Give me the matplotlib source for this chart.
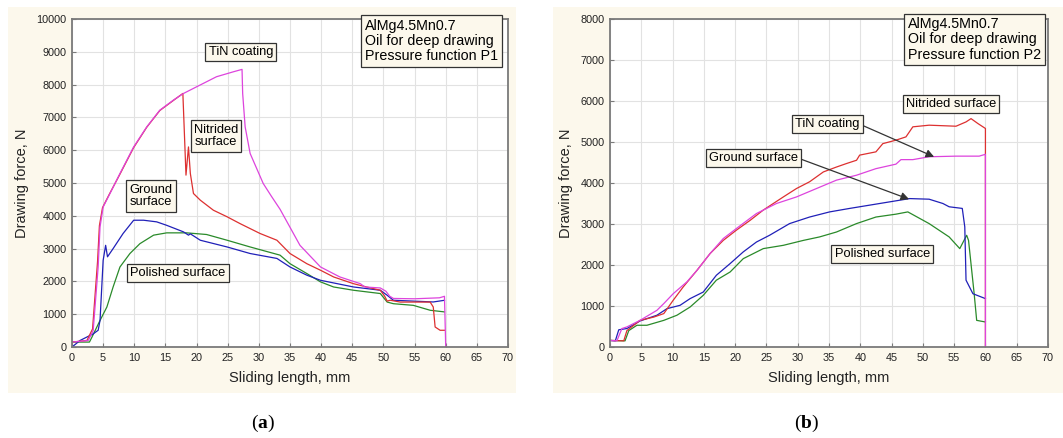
import matplotlib.pyplot as plt
from matplotlib.patches import Rectangle

plt.rcParams['font.family'] = ['Liberation Sans', 'DejaVu Sans']
plt.rcParams['mathtext.fontset'] = 'custom'
plt.rcParams['mathtext.rm'] = 'Liberation Serif'
plt.rcParams['mathtext.bf'] = 'Liberation Serif:bold'

# ---- panel (a): pressure function P1 ----
a_tin_x = [0, 2.6, 3.4, 4.2, 4.5, 5.0, 6.1, 7.7, 9.9, 12.0, 14.1, 16.3, 17.9, 20.6, 23.2, 25.9, 27.3,
           27.4, 27.8, 28.6, 30.7, 32.0, 33.4, 36.6, 39.9, 43.0, 46.3, 47.0, 49.5, 50.4, 51.0, 51.6, 55.0,
           59.0, 59.8, 60.0]
a_tin_y = [150, 200, 500, 2440, 3660, 4270, 4680, 5290, 6100, 6710, 7220, 7530, 7730, 7990, 8240, 8390, 8464,
           7730, 6710, 5900, 4985, 4600, 4200, 3100, 2440, 2136, 1930, 1830, 1800, 1700, 1550, 1480, 1470,
           1500, 1546, 0]

a_nit_x = [0, 2.4, 3.3, 4.1, 4.4, 4.9, 6.0, 7.7, 9.9, 12.0, 14.1, 16.3, 17.8, 18.3, 18.7, 19.0, 19.5,
           20.6, 22.7, 24.9, 27.0, 30.2, 32.9, 35.0, 37.7, 39.9, 42.0, 45.2, 47.3, 49.5, 50.2, 50.6,
           51.1, 52.7, 57.5, 58.0, 58.3, 59.1, 59.8]
a_nit_y = [150, 200, 550, 2600, 3700, 4250, 4660, 5270, 6080, 6700, 7210, 7520, 7730, 5240, 6100, 5290, 4680,
           4476, 4170, 3970, 3760, 3460, 3255, 2850, 2540, 2340, 2136, 1930, 1830, 1730, 1550, 1400,
           1425, 1370, 1370, 1220, 610, 510, 510]

a_gro_x = [0, 1.3, 3.4, 4.2, 4.5, 5.0, 5.4, 5.7, 6.6, 8.2, 9.9, 11.5, 13.6, 15.2, 17.9, 18.7, 19.0,
           20.6, 24.9, 28.6, 32.9, 35.0, 37.7, 39.9, 45.2, 49.5, 50.6, 51.6, 58.0, 59.8]
a_gro_y = [0, 200, 400, 510, 810, 2640, 3100, 2750, 3000, 3460, 3865, 3865, 3815, 3710, 3510, 3410, 3450,
           3255, 3050, 2850, 2700, 2440, 2190, 2034, 1830, 1730, 1577, 1425, 1373, 1424]

a_pol_x = [0, 2.8, 3.2, 4.5, 5.6, 6.6, 7.7, 9.3, 10.9, 13.1, 15.2, 18.4, 21.6, 24.9, 28.6, 33.4, 35.0,
           37.7, 39.9, 42.0, 45.2, 49.5, 50.6, 51.6, 54.8, 57.5, 59.8]
a_pol_y = [150, 150, 300, 810, 1220, 1830, 2440, 2850, 3150, 3410, 3480, 3480, 3430, 3255, 3050, 2800, 2540,
           2240, 1985, 1830, 1730, 1630, 1370, 1320, 1270, 1120, 1070]

# ---- panel (b): pressure function P2 ----
b_nit_x = [0, 2.2, 2.7, 3.8, 4.8, 7.0, 8.6, 10.1, 11.7, 13.9, 16.0, 18.1, 20.2, 22.4, 24.5, 27.7, 29.8,
           31.9, 34.1, 36.2, 37.8, 39.4, 39.9, 42.5, 43.6, 45.7, 47.3, 48.4, 51.0, 55.3, 56.9, 57.7,
           58.8, 60.0, 60.0]
b_nit_y = [160, 150, 400, 530, 650, 730, 815, 1140, 1465, 1870, 2280, 2600, 2850, 3090, 3340, 3660, 3865,
           4030, 4270, 4390, 4475, 4555, 4680, 4760, 4960, 5045, 5125, 5370, 5410, 5385, 5490, 5570,
           5450, 5330, 0]

b_tin_x = [0, 1.1, 1.9, 2.7, 4.8, 7.5, 8.6, 10.1, 12.3, 13.9, 16.0, 18.1, 20.2, 23.4, 26.6, 29.8, 33.0,
           36.2, 39.4, 42.5, 45.7, 46.5, 48.4, 51.0, 55.3, 59.0, 60.0, 60.0]
b_tin_y = [160, 150, 450, 490, 650, 895, 1060, 1300, 1590, 1870, 2280, 2645, 2890, 3255, 3500, 3660, 3865,
           4070, 4190, 4350, 4460, 4570, 4570, 4640, 4655, 4655, 4700, 0]

b_gro_x = [0, 0.85, 1.4, 2.7, 4.8, 7.5, 9.1, 11.2, 12.8, 14.9, 17.0, 19.2, 21.3, 23.4, 25.5, 28.7, 31.9,
           35.1, 38.3, 41.5, 44.7, 47.9, 51.0, 53.2, 54.2, 56.3, 56.7, 56.9, 58.0, 60.0]
b_gro_y = [160, 150, 420, 450, 635, 775, 935, 1017, 1180, 1340, 1750, 2035, 2320, 2560, 2725, 3010, 3170,
           3295, 3380, 3460, 3540, 3620, 3605, 3500, 3420, 3380, 2930, 1630, 1300, 1180]

b_pol_x = [0, 2.4, 3.0, 4.3, 5.9, 8.6, 10.7, 12.8, 14.9, 17.0, 19.2, 21.3, 24.5, 27.7, 30.9, 33.5, 36.2,
           39.4, 42.5, 45.7, 47.6, 51.0, 54.2, 55.9, 57.0, 57.3, 58.2, 58.6, 60.0]
b_pol_y = [160, 150, 400, 530, 530, 650, 775, 975, 1260, 1630, 1830, 2155, 2400, 2480, 2600, 2685, 2805,
           3010, 3170, 3240, 3295, 3010, 2685, 2400, 2725, 2600, 1300, 650, 610]

x_ticks = list(range(0, 71, 5))
a_y_ticks = list(range(0, 10001, 1000))
b_y_ticks = list(range(0, 8001, 1000))

info_a = "AlMg4.5Mn0.7\nOil for deep drawing\nPressure function P1"
info_b = "AlMg4.5Mn0.7\nOil for deep drawing\nPressure function P2"

c_tin = '#dd44dd'
c_nit = '#dd3030'
c_gro = '#2020b8'
c_pol = '#2a8a2a'
cream = '#fcf8ec'

W, H = 1063, 438
fig = plt.figure(figsize=(W / 100, H / 100), dpi=100)
fig.patch.set_facecolor('white')

# cream panels behind each chart
fig.patches.append(Rectangle((8 / W, 1 - 393 / H), 508 / W, 386 / H, transform=fig.transFigure,
                             facecolor=cream, edgecolor='none', zorder=-10))
fig.patches.append(Rectangle((553 / W, 1 - 393 / H), 510 / W, 386 / H, transform=fig.transFigure,
                             facecolor=cream, edgecolor='none', zorder=-10))

box = dict(boxstyle='square,pad=0.25', facecolor=cream, edgecolor='#333333', linewidth=0.9)


def setup(ax, yticks):
    ax.set_facecolor('white')
    ax.set_xlim(0, 70)
    ax.set_ylim(yticks[0], yticks[-1])
    ax.set_xticks(x_ticks)
    ax.set_yticks(yticks)
    ax.grid(True, color='#e2e2e2', linewidth=0.8)
    ax.set_axisbelow(True)
    for s in ax.spines.values():
        s.set_color('#7a7a7a')
        s.set_linewidth(1.3)
    ax.tick_params(direction='in', length=3, color='#7a7a7a', labelsize=7.8, pad=4, labelcolor='#222222')
    ax.set_xlabel('Sliding length, mm', fontsize=10.5, labelpad=6, color='#222222')
    ax.set_ylabel('Drawing force, N', fontsize=10.5, labelpad=5, color='#222222')


ax1 = fig.add_axes([72 / W, 1 - 347 / H, 436 / W, 328 / H])
setup(ax1, a_y_ticks)
ax1.plot(a_pol_x, a_pol_y, color=c_pol, lw=0.9)
ax1.plot(a_gro_x, a_gro_y, color=c_gro, lw=0.9)
ax1.plot(a_nit_x, a_nit_y, color=c_nit, lw=0.9)
ax1.plot(a_tin_x, a_tin_y, color=c_tin, lw=0.9)
ax1.text(27.1, 8994, 'TiN coating', ha='center', va='center', fontsize=9.3, bbox=box)
ax1.text(23.1, 6433, 'Nitrided\nsurface', ha='center', va='center', fontsize=9.3, bbox=box,
         linespacing=1.1)
ax1.text(12.7, 4604, 'Ground\nsurface', ha='center', va='center', fontsize=9.3, bbox=box,
         linespacing=1.1)
ax1.text(17.0, 2256, 'Polished surface', ha='center', va='center', fontsize=9.3, bbox=box)
ax1.text(0.672, 1.0, info_a, transform=ax1.transAxes, ha='left', va='top', fontsize=10.3,
         linespacing=1.1, bbox=box)
fig.text(263 / W, 1 - 423 / H, r'($\mathbf{a}$)', ha='center', va='center', fontsize=14,
         family='Liberation Serif')

ax2 = fig.add_axes([610 / W, 1 - 347 / H, 438 / W, 328 / H])
setup(ax2, b_y_ticks)
ax2.plot(b_pol_x, b_pol_y, color=c_pol, lw=0.9)
ax2.plot(b_gro_x, b_gro_y, color=c_gro, lw=0.9)
ax2.plot(b_nit_x, b_nit_y, color=c_nit, lw=0.9)
ax2.plot(b_tin_x, b_tin_y, color=c_tin, lw=0.9)
arrow = dict(arrowstyle='-|>', color='#333333', lw=0.9, relpos=(1, 0.5), mutation_scale=12,
             shrinkA=0, shrinkB=0)
ax2.text(54.5, 5927, 'Nitrided surface', ha='center', va='center', fontsize=9.3, bbox=box)
ax2.annotate('TiN coating', xy=(51.8, 4638), xytext=(34.7, 5439), ha='center', va='center',
             fontsize=9.3, bbox=box, arrowprops=arrow)
ax2.annotate('Ground surface', xy=(47.8, 3605), xytext=(22.9, 4610), ha='center', va='center',
             fontsize=9.3, bbox=box, arrowprops=arrow)
ax2.text(43.5, 2268, 'Polished surface', ha='center', va='center', fontsize=9.3, bbox=box)
ax2.text(0.68, 1.005, info_b, transform=ax2.transAxes, ha='left', va='top', fontsize=10.3,
         linespacing=1.1, bbox=box)
fig.text(807 / W, 1 - 423 / H, r'($\mathbf{b}$)', ha='center', va='center', fontsize=14,
         family='Liberation Serif')

fig.savefig('out.png', dpi=100)
